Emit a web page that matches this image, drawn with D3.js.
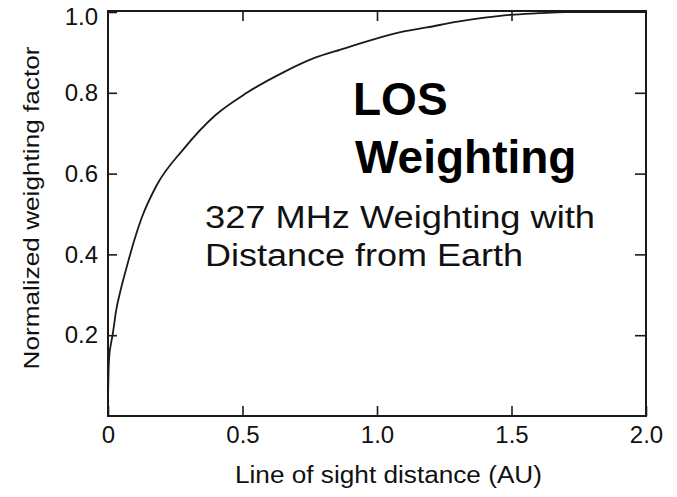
<!DOCTYPE html>
<html>
<head>
<meta charset="utf-8">
<script src="https://cdn.jsdelivr.net/npm/d3@7"></script>
<style>
  html, body { margin: 0; padding: 0; background: #fff; }
  svg { display: block; font-family: Arial, "Liberation Sans", Helvetica, sans-serif; }
</style>
</head>
<body>
<svg id="chart" width="677" height="497"></svg>
<script>
// Line-of-sight distance (AU) and the normalized weighting factor at 327 MHz
const distanceAU = [0.000, 0.002, 0.005, 0.010, 0.017, 0.030, 0.050, 0.070, 0.100, 0.125,
                    0.180, 0.280, 0.400, 0.516, 0.650, 0.763, 0.880, 0.975, 1.100, 1.186,
                    1.300, 1.400, 1.495, 1.600, 1.700, 1.850, 2.000];
const weightFactor = [0.040, 0.110, 0.150, 0.175, 0.200, 0.260, 0.320, 0.370, 0.440, 0.490,
                      0.570, 0.660, 0.745, 0.800, 0.850, 0.885, 0.910, 0.930, 0.952, 0.962,
                      0.976, 0.986, 0.993, 0.997, 1.000, 1.000, 1.000];

const xTicks = [0, 0.5, 1.0, 1.5, 2.0];
const xTickLabels = ["0", "0.5", "1.0", "1.5", "2.0"];
const yTicks = [0.2, 0.4, 0.6, 0.8, 1.0];
const yTickLabels = ["0.2", "0.4", "0.6", "0.8", "1.0"];

const titleLines = ["LOS", "Weighting"];
const noteLines = ["327 MHz Weighting with", "Distance from Earth"];
const xAxisTitle = "Line of sight  distance (AU)";
const yAxisTitle = "Normalized weighting factor";

const svg = d3.select("#chart");
const ink = "#1a1a1a";

const plotLeft = 108, plotRight = 646, plotTop = 11, plotBottom = 416;
const x = d3.scaleLinear().domain([0, 2]).range([plotLeft, plotRight]);
const y = d3.scaleLinear().domain([0, 1]).range([plotBottom, 12]);

// Axes with inward ticks on all four sides
const axisStyle = g => {
  g.select(".domain").remove();
  g.selectAll(".tick line").attr("stroke", ink).attr("stroke-width", 1.6);
  g.selectAll(".tick text").attr("fill", "#111").attr("font-size", 24)
    .attr("font-family", 'Arial, "Liberation Sans", sans-serif');
};

svg.append("g")
  .attr("transform", `translate(0,${plotBottom})`)
  .call(d3.axisBottom(x).tickValues(xTicks).tickSize(-10).tickPadding(8)
        .tickFormat((d, i) => xTickLabels[i]))
  .call(axisStyle)
  .call(g => g.selectAll(".tick text").attr("dy", "0.8em"));

svg.append("g")
  .attr("transform", `translate(0,${plotTop})`)
  .call(d3.axisTop(x).tickValues(xTicks.slice(1, -1)).tickSize(-10).tickFormat(""))
  .call(axisStyle);

svg.append("g")
  .attr("transform", `translate(${plotLeft},0)`)
  .call(d3.axisLeft(y).tickValues(yTicks).tickSize(-9).tickPadding(10)
        .tickFormat((d, i) => yTickLabels[i]))
  .call(axisStyle)
  // the top label sits a little below the frame corner
  .call(g => g.selectAll(".tick text").filter(d => d === 1).attr("dy", "0.52em"));

svg.append("g")
  .attr("transform", `translate(${plotRight},0)`)
  .call(d3.axisRight(y).tickValues(yTicks.slice(0, -1)).tickSize(-11).tickFormat(""))
  .call(axisStyle);

// Plot frame
svg.append("rect")
  .attr("x", plotLeft).attr("y", plotTop)
  .attr("width", plotRight - plotLeft).attr("height", plotBottom - plotTop)
  .attr("fill", "none").attr("stroke", ink).attr("stroke-width", 2);

// Weighting curve
const line = d3.line()
  .x((d, i) => x(distanceAU[i]))
  .y(d => y(d))
  .curve(d3.curveMonotoneX);

svg.append("path")
  .datum(weightFactor)
  .attr("d", line)
  .attr("fill", "none")
  .attr("stroke", ink)
  .attr("stroke-width", 1.8);

// Annotations
svg.selectAll(".title-line")
  .data(titleLines)
  .join("text")
  .attr("class", "title-line")
  .attr("x", (d, i) => i === 0 ? 353 : 355)
  .attr("y", (d, i) => 115 + i * 58)
  .attr("font-size", 46)
  .attr("font-weight", "bold")
  .attr("fill", "#000")
  .text(d => d);

svg.selectAll(".note-line")
  .data(noteLines)
  .join("text")
  .attr("class", "note-line")
  .attr("x", 205)
  .attr("y", (d, i) => 228 + i * 38)
  .attr("font-size", 31)
  .attr("textLength", (d, i) => i === 0 ? 390 : 318)
  .attr("lengthAdjust", "spacingAndGlyphs")
  .attr("fill", "#111")
  .text(d => d);

// Axis titles
svg.append("text")
  .attr("x", 235).attr("y", 483)
  .attr("font-size", 23)
  .attr("textLength", 307)
  .attr("lengthAdjust", "spacingAndGlyphs")
  .attr("fill", "#111")
  .text(xAxisTitle);

svg.append("text")
  .attr("transform", "translate(39,208) rotate(-90)")
  .attr("text-anchor", "middle")
  .attr("font-size", 22)
  .attr("textLength", 323)
  .attr("lengthAdjust", "spacingAndGlyphs")
  .attr("fill", "#111")
  .text(yAxisTitle);
</script>
</body>
</html>
